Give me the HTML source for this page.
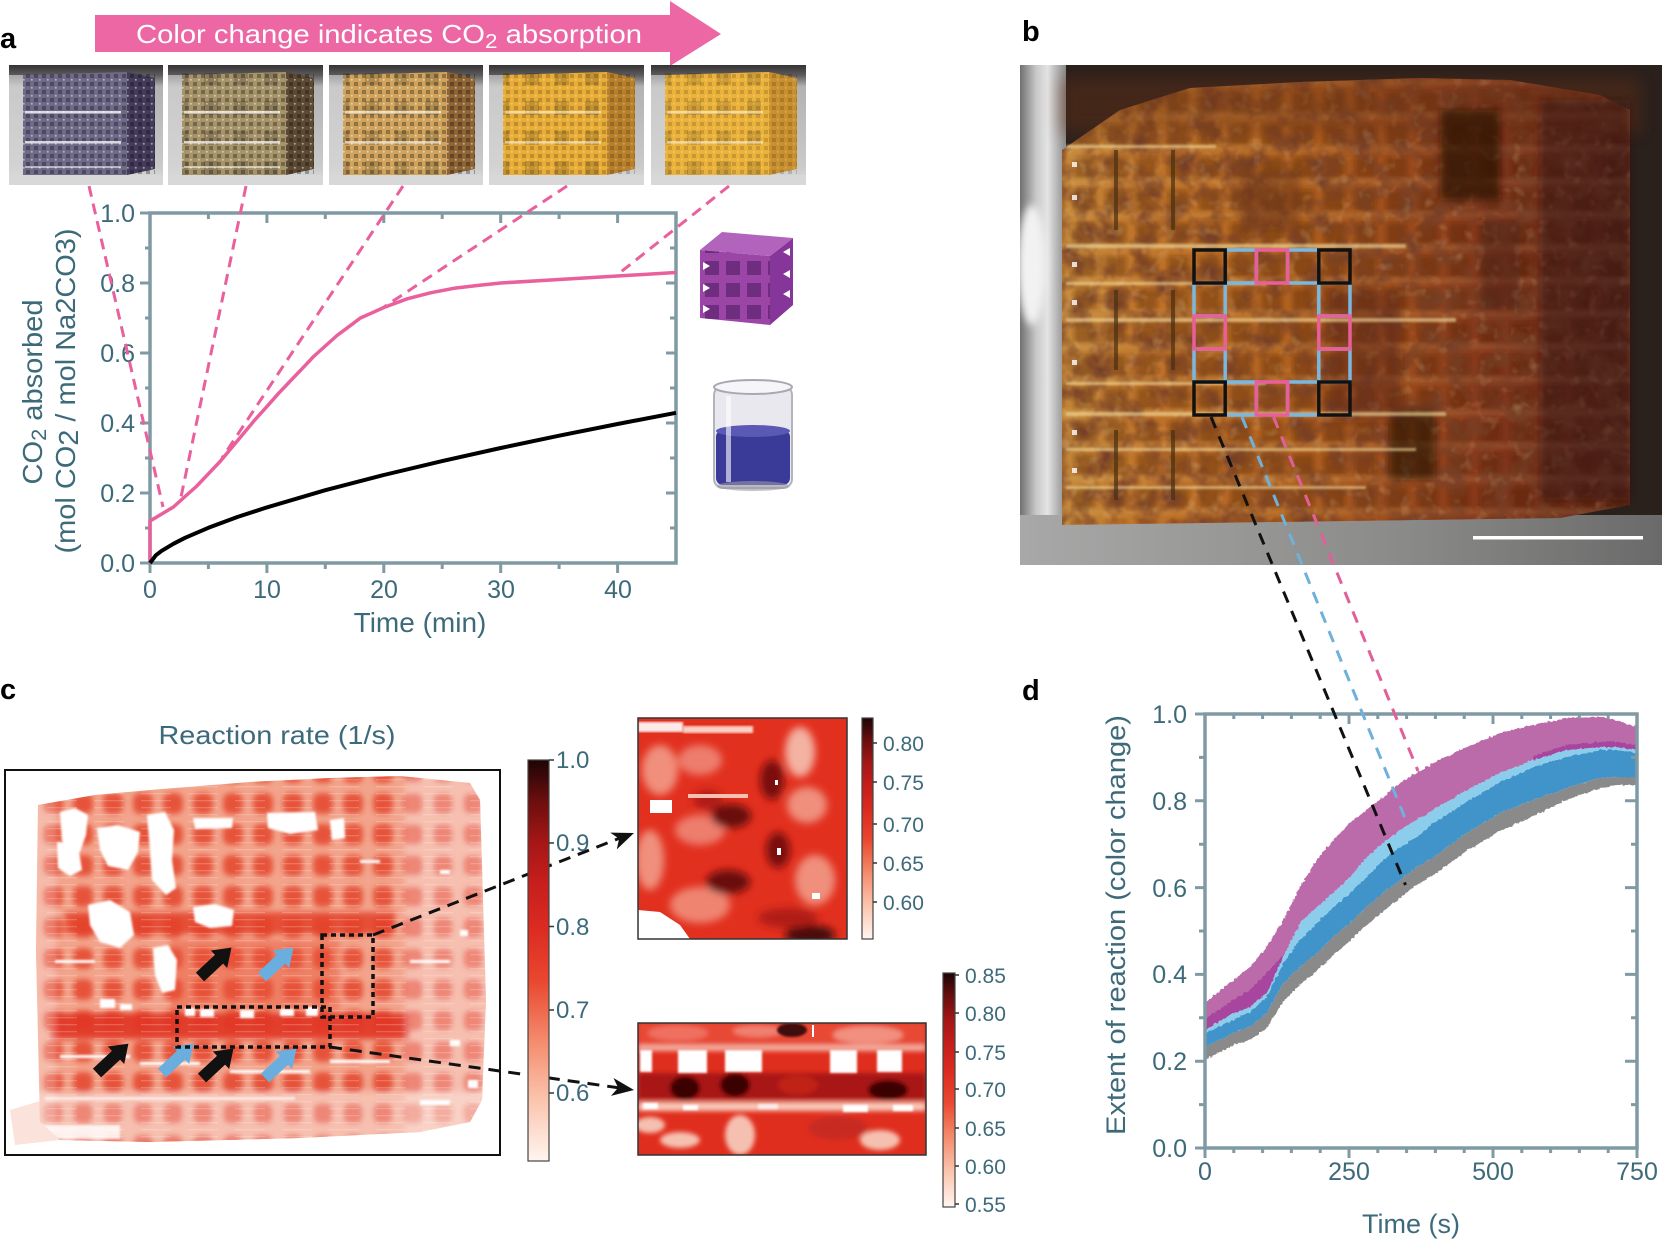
<!DOCTYPE html>
<html><head><meta charset="utf-8"><style>
html,body{margin:0;padding:0;background:#fff;}
svg{display:block;}
text{font-family:"Liberation Sans",Arial,sans-serif;}
</style></head><body>
<svg width="1662" height="1242" viewBox="0 0 1662 1242" xmlns="http://www.w3.org/2000/svg">
<defs>
<filter id="b1" x="-10%" y="-10%" width="120%" height="120%"><feGaussianBlur stdDeviation="1"/></filter>
<filter id="b2" x="-10%" y="-10%" width="120%" height="120%"><feGaussianBlur stdDeviation="2.5"/></filter>
<filter id="b3" x="-10%" y="-10%" width="120%" height="120%"><feGaussianBlur stdDeviation="3"/></filter>
<filter id="b4" x="-30%" y="-30%" width="160%" height="160%"><feGaussianBlur stdDeviation="4"/></filter>
<filter id="b8" x="-40%" y="-40%" width="180%" height="180%"><feGaussianBlur stdDeviation="8"/></filter>
<filter id="jag"><feTurbulence type="fractalNoise" baseFrequency="0.35" numOctaves="1" seed="3"/><feDisplacementMap in="SourceGraphic" scale="4" xChannelSelector="R" yChannelSelector="G"/></filter>
<filter id="mot" filterUnits="userSpaceOnUse" x="1020" y="65" width="642" height="500"><feTurbulence type="fractalNoise" baseFrequency="0.045" numOctaves="3" seed="7"/><feColorMatrix type="matrix" values="0 0 0 0 0.18  0 0 0 0 0.05  0 0 0 0 0.02  2.2 0 0 0 -0.85"/></filter>
<filter id="mot2" filterUnits="userSpaceOnUse" x="1020" y="65" width="642" height="500"><feTurbulence type="fractalNoise" baseFrequency="0.08" numOctaves="2" seed="11"/><feColorMatrix type="matrix" values="0 0 0 0 1  0 0 0 0 0.85  0 0 0 0 0.45  0 2.4 0 0 -1.35"/></filter>
<linearGradient id="cmap" x1="0" y1="1" x2="0" y2="0">
<stop offset="0" stop-color="#fff5f0"/><stop offset="0.15" stop-color="#fbc5ae"/><stop offset="0.3" stop-color="#f48b6c"/><stop offset="0.45" stop-color="#e9472f"/><stop offset="0.58" stop-color="#dc2b21"/><stop offset="0.7" stop-color="#c41e1c"/><stop offset="0.8" stop-color="#a31616"/><stop offset="0.9" stop-color="#6a0e0e"/><stop offset="1" stop-color="#1c0505"/>
</linearGradient>
<linearGradient id="pbg" x1="0" y1="0" x2="0" y2="1">
<stop offset="0" stop-color="#343232"/><stop offset="0.08" stop-color="#5a5858"/><stop offset="0.18" stop-color="#b2b2b2"/><stop offset="0.85" stop-color="#cacaca"/><stop offset="1" stop-color="#e0e0e0"/>
</linearGradient>
<linearGradient id="bcube" gradientUnits="userSpaceOnUse" x1="1060" y1="0" x2="1630" y2="0">
<stop offset="0" stop-color="#c4883a"/><stop offset="0.15" stop-color="#bf7429"/><stop offset="0.4" stop-color="#b0621f"/><stop offset="0.6" stop-color="#9c4c1c"/><stop offset="0.75" stop-color="#84361a"/><stop offset="1" stop-color="#5a2416"/>
</linearGradient>
<linearGradient id="glass" x1="0" y1="0" x2="1" y2="0">
<stop offset="0" stop-color="#707070"/><stop offset="0.35" stop-color="#c8c8c8"/><stop offset="0.6" stop-color="#e4e4e4"/><stop offset="1" stop-color="#8a8a8a"/>
</linearGradient>
<linearGradient id="floor" x1="0" y1="0" x2="1" y2="0">
<stop offset="0" stop-color="#a8a8a8"/><stop offset="0.6" stop-color="#8a8a88"/><stop offset="1" stop-color="#6a6a6a"/>
</linearGradient>
<pattern id="lat" width="8" height="8" patternUnits="userSpaceOnUse"><rect x="1" y="1" width="4" height="4" fill="#000" opacity=".3"/><rect x="6" y="6" width="1.6" height="1.6" fill="#fff" opacity=".55"/></pattern>
<pattern id="fr" width="30" height="30" patternUnits="userSpaceOnUse"><rect x="6" y="6" width="14" height="14" fill="#000" opacity=".16"/></pattern>
<pattern id="blat" x="1194" y="250" width="31.2" height="33" patternUnits="userSpaceOnUse"><rect x="5" y="6" width="21" height="21" fill="#4a1a08" opacity=".35"/><rect x="0" y="30" width="31.2" height="2" fill="#f0d090" opacity=".35"/></pattern>
<pattern id="blob" x="38" y="788" width="30" height="31" patternUnits="userSpaceOnUse"><rect x="5" y="5" width="20" height="21" rx="7" fill="#e54a32"/></pattern>
<pattern id="streak" width="47" height="7" patternUnits="userSpaceOnUse"><rect x="0" y="2" width="30" height="1.3" fill="#fff"/></pattern>
<pattern id="plat" width="21" height="22" patternUnits="userSpaceOnUse" x="702" y="258"><rect x="3" y="3" width="14" height="14" fill="#4a1860" opacity=".55"/></pattern>
<clipPath id="obj"><polygon points="38,805 95,795 150,790 250,782 330,778 400,776 470,783 480,800 486,1000 482,1100 470,1122 420,1132 300,1138 150,1142 60,1140 40,1122 36,950"/></clipPath>
<clipPath id="cpb"><rect x="1020" y="65" width="642" height="500"/></clipPath>
<clipPath id="cbc"><polygon points="1062,150 1120,110 1190,88 1300,82 1420,78 1510,80 1600,95 1630,110 1630,505 1560,518 1062,525"/></clipPath>
<clipPath id="cfront"><polygon points="700,250 770,256 770,325 700,318"/></clipPath>
</defs>

<!-- ============ PANEL A ============ -->
<text x="0" y="48" font-size="29" font-weight="bold" fill="#000">a</text>
<polygon points="95,15 670,15 670,1 721,34 670,66 670,52 95,52" fill="#ec67a4"/>
<text x="136" y="43" font-size="26" fill="#fff" textLength="506" lengthAdjust="spacingAndGlyphs">Color change indicates CO<tspan font-size="20" dy="5">2</tspan><tspan dy="-5"> absorption</tspan></text>

<!-- photos -->
<svg x="9" y="65" width="154" height="120">
<rect width="154" height="120" fill="url(#pbg)"/><rect x="0" y="10" width="14" height="100" fill="#d8d8d8" opacity=".6"/>
<polygon points="14,10 118,7 118,110 14,112" fill="#6e6a88"/><polygon points="118,7 146,13 146,104 118,110" fill="#443c5a"/>
<rect x="14" y="8" width="132" height="104" fill="url(#lat)"/>
<rect x="16" y="46" width="96" height="2.5" fill="#fff" opacity=".75"/><rect x="16" y="76" width="96" height="2.5" fill="#fff" opacity=".75"/><rect x="16" y="101" width="96" height="2" fill="#fff" opacity=".5"/>
<rect x="0" y="110" width="154" height="10" fill="#d8d8d8"/>
</svg>
<svg x="168" y="65" width="155" height="120">
<rect width="155" height="120" fill="url(#pbg)"/><rect x="0" y="10" width="14" height="100" fill="#d8d8d8" opacity=".6"/>
<polygon points="14,10 118,7 118,110 14,112" fill="#a8946a"/><polygon points="118,7 146,13 146,104 118,110" fill="#5c4a34"/>
<rect x="14" y="8" width="104" height="104" fill="url(#fr)"/>
<rect x="14" y="8" width="132" height="104" fill="url(#lat)"/>
<rect x="16" y="46" width="96" height="2.5" fill="#fff" opacity=".7"/><rect x="16" y="76" width="96" height="2.5" fill="#fff" opacity=".7"/><rect x="16" y="101" width="96" height="2" fill="#fff" opacity=".5"/>
<rect x="0" y="110" width="155" height="10" fill="#d8d8d8"/>
</svg>
<svg x="329" y="65" width="154" height="120">
<rect width="154" height="120" fill="url(#pbg)"/><rect x="0" y="10" width="14" height="100" fill="#d8d8d8" opacity=".6"/>
<polygon points="14,10 118,7 118,110 14,112" fill="#d0a45c"/><polygon points="118,7 146,13 146,104 118,110" fill="#8e6434"/>
<rect x="14" y="8" width="104" height="104" fill="url(#fr)"/>
<rect x="14" y="8" width="132" height="104" fill="url(#lat)"/>
<rect x="16" y="46" width="96" height="2.5" fill="#fff" opacity=".6"/><rect x="16" y="76" width="96" height="2.5" fill="#fff" opacity=".6"/>
<rect x="0" y="110" width="154" height="10" fill="#d8d8d8"/>
</svg>
<svg x="489" y="65" width="155" height="120">
<rect width="155" height="120" fill="url(#pbg)"/><rect x="0" y="10" width="14" height="100" fill="#d8d8d8" opacity=".6"/>
<polygon points="14,10 118,7 118,110 14,112" fill="#e8ae38"/><polygon points="118,7 146,13 146,104 118,110" fill="#b8802a"/>
<rect x="14" y="8" width="104" height="104" fill="url(#fr)"/>
<rect x="14" y="8" width="132" height="104" fill="url(#lat)" opacity=".6"/>
<rect x="16" y="46" width="96" height="2.5" fill="#fff" opacity=".5"/><rect x="16" y="76" width="96" height="2.5" fill="#fff" opacity=".5"/>
<rect x="0" y="110" width="155" height="10" fill="#d8d8d8"/>
</svg>
<svg x="651" y="65" width="155" height="120">
<rect width="155" height="120" fill="url(#pbg)"/><rect x="0" y="10" width="14" height="100" fill="#d8d8d8" opacity=".6"/>
<polygon points="14,10 118,7 118,110 14,112" fill="#ebb33c"/><polygon points="118,7 146,13 146,104 118,110" fill="#c99030"/>
<rect x="14" y="8" width="104" height="104" fill="url(#fr)" opacity=".8"/>
<rect x="14" y="8" width="132" height="104" fill="url(#lat)" opacity=".5"/>
<rect x="16" y="46" width="96" height="2.5" fill="#fff" opacity=".5"/><rect x="16" y="76" width="96" height="2.5" fill="#fff" opacity=".5"/>
<rect x="0" y="110" width="155" height="10" fill="#d8d8d8"/>
</svg>

<!-- chart a -->
<rect x="150" y="213" width="526" height="350" fill="none" stroke="#7f9aa3" stroke-width="3.5"/>
<path d="M140,563H150M140,493H150M140,423H150M140,353H150M140,283H150M140,213H150M145,528H150M145,458H150M145,388H150M145,318H150M145,248H150
M150,563V573M266.9,563V573M383.8,563V573M500.7,563V573M617.6,563V573M208.4,563V569M325.3,563V569M442.2,563V569M559.1,563V569
M266.9,213V223M383.8,213V223M500.7,213V223M617.6,213V223M208.4,213V219M325.3,213V219M442.2,213V219M559.1,213V219
M666,493H676M666,423H676M666,353H676M666,283H676M670,528H676M670,458H676M670,388H676M670,318H676M670,248H676" stroke="#7f9aa3" stroke-width="3" fill="none"/>
<g font-size="25" fill="#3d6a7a" text-anchor="end">
<text x="135" y="572">0.0</text><text x="135" y="502">0.2</text><text x="135" y="432">0.4</text><text x="135" y="362">0.6</text><text x="135" y="292">0.8</text><text x="135" y="222">1.0</text>
</g>
<g font-size="25" fill="#3d6a7a" text-anchor="middle">
<text x="150" y="598">0</text><text x="267" y="598">10</text><text x="384" y="598">20</text><text x="501" y="598">30</text><text x="618" y="598">40</text>
</g>
<text x="420" y="632" font-size="28" fill="#3d6a7a" text-anchor="middle">Time (min)</text>
<text transform="translate(42,392) rotate(-90)" text-anchor="middle" font-size="28" fill="#3d6a7a" textLength="185" lengthAdjust="spacingAndGlyphs">CO<tspan font-size="21" dy="4">2</tspan><tspan dy="-4"> absorbed</tspan></text>
<text transform="translate(75,391) rotate(-90)" text-anchor="middle" font-size="28" fill="#3d6a7a" textLength="325" lengthAdjust="spacingAndGlyphs">(mol CO<tspan dy="3">2</tspan><tspan dy="-3"> / mol Na2CO3)</tspan></text>

<path d="M150,563 L150,521 L161.7,514 L173.4,507 L185.1,496.5 L196.8,486 L208.4,473.8 L220.1,461.5 L231.8,447.5 L243.5,433.5 L255.2,419.5 L266.9,406.6 L278.6,393.3 L290.3,381 L302,368.8 L313.6,356.5 L325.3,346 L337,335.5 L348.7,326.8 L360.4,318 L372.1,312.8 L383.8,307.5 L407.2,298.8 L430.5,292.8 L453.9,288.3 L477.3,285.5 L500.7,283 L559.1,279.5 L617.6,276 L676,272.5" fill="none" stroke="#e9609c" stroke-width="3.5" stroke-linejoin="round"/>
<path d="M150,563 L155.8,555.3 L161.7,550.8 L173.4,543.8 L185.1,537.8 L208.4,527.8 L237.7,516.9 L266.9,507.4 L325.3,490.2 L383.8,475 L442.2,461.1 L500.7,448 L559.1,435.7 L617.6,424 L676,412.8" fill="none" stroke="#000" stroke-width="4" stroke-linejoin="round"/>
<g stroke="#e9609c" stroke-width="3" stroke-dasharray="11 7" fill="none">
<path d="M89,186 L163,507"/><path d="M246,186 L181,497"/><path d="M403,186 L222,458"/><path d="M567,186 L384,307"/><path d="M729,186 L617,275"/>
</g>

<!-- icons -->
<polygon points="700,250 770,256 770,325 700,318" fill="#9b46a6"/>
<polygon points="770,256 793,238 793,305 770,325" fill="#86369a"/>
<polygon points="700,250 722,232 793,238 770,256" fill="#b264bc"/>
<rect x="700" y="250" width="70" height="76" fill="url(#plat)" clip-path="url(#cfront)"/>
<g fill="#fff"><polygon points="703,262 710,266 703,270"/><polygon points="703,284 710,288 703,292"/><polygon points="703,305 710,309 703,313"/><polygon points="790,248 783,252 790,256"/><polygon points="790,270 783,274 790,278"/><polygon points="790,290 783,294 790,298"/></g>
<rect x="714" y="386" width="78" height="102" rx="9" fill="#e8e8ee" stroke="#b4b4bc" stroke-width="2"/>
<rect x="716" y="430" width="74" height="55" rx="7" fill="#3a3a98"/>
<ellipse cx="753" cy="431" rx="37" ry="6" fill="#5a5ab4"/>
<ellipse cx="753" cy="387" rx="39" ry="7" fill="#f6f6fa" stroke="#a8a8b0" stroke-width="2"/>
<rect x="726" y="396" width="5" height="86" fill="#fff" opacity=".6"/>
<ellipse cx="753" cy="486" rx="36" ry="5" fill="#9a9aa6" opacity=".6"/>

<!-- ============ PANEL B ============ -->
<text x="1022" y="41" font-size="29" font-weight="bold" fill="#000">b</text>
<g clip-path="url(#cpb)">
<rect x="1020" y="65" width="642" height="500" fill="#2a201c"/>
<rect x="1020" y="65" width="46" height="500" fill="url(#glass)"/>
<ellipse cx="1032" cy="265" rx="14" ry="60" fill="#f2f2f2" filter="url(#b4)"/>
<rect x="1020" y="515" width="642" height="50" fill="url(#floor)"/>
<polygon points="1062,150 1120,110 1190,88 1300,82 1420,78 1510,80 1600,95 1630,110 1630,505 1560,518 1062,525" fill="url(#bcube)"/>
<g clip-path="url(#cbc)">
<rect x="1060" y="78" width="580" height="445" fill="url(#blat)" filter="url(#b2)"/>
<rect x="1020" y="65" width="642" height="500" filter="url(#mot)"/>
<rect x="1020" y="65" width="642" height="500" filter="url(#mot2)" opacity=".25"/>
</g>
<rect x="1060" y="78" width="580" height="55" fill="#6a3014" opacity=".4" filter="url(#b8)"/>
<g filter="url(#b4)">
<rect x="1440" y="110" width="60" height="90" fill="#2a1008" opacity=".7"/>
<rect x="1330" y="290" width="70" height="130" fill="#5a2410" opacity=".45"/>
<rect x="1390" y="410" width="45" height="70" fill="#2a1008" opacity=".6"/>
<rect x="1240" y="170" width="60" height="60" fill="#6a3014" opacity=".5"/>
<rect x="1540" y="100" width="90" height="400" fill="#3a1a10" opacity=".5"/>
<rect x="1480" y="220" width="40" height="90" fill="#4a2010" opacity=".5"/>
</g>
<g fill="#f5e0a0" opacity=".6" filter="url(#b1)">
<rect x="1066" y="145" width="150" height="3"/><rect x="1066" y="244" width="340" height="4"/><rect x="1066" y="282" width="200" height="3"/><rect x="1066" y="318" width="390" height="4"/><rect x="1066" y="382" width="200" height="3"/><rect x="1066" y="412" width="380" height="4"/><rect x="1066" y="448" width="350" height="3"/><rect x="1066" y="486" width="300" height="3"/>
</g>
<g stroke="#4a3010" stroke-width="4" opacity=".7"><path d="M1116,150V230M1173,150V230M1116,290V370M1173,290V370M1116,430V500M1173,430V500"/></g>
<g fill="#fff" opacity=".8"><rect x="1072" y="162" width="5" height="5"/><rect x="1072" y="195" width="5" height="5"/><rect x="1072" y="262" width="5" height="5"/><rect x="1072" y="300" width="5" height="5"/><rect x="1072" y="360" width="5" height="5"/><rect x="1072" y="430" width="5" height="5"/><rect x="1072" y="468" width="5" height="5"/></g>
<rect x="1473" y="536" width="170" height="3.5" fill="#fff"/>
</g>
<!-- squares -->
<g fill="none" stroke-width="3.5">
<g stroke="#7ab8e0"><rect x="1225.2" y="250" width="31.2" height="33"/><rect x="1287.6" y="250" width="31.2" height="33"/><rect x="1225.2" y="382" width="31.2" height="33"/><rect x="1287.6" y="382" width="31.2" height="33"/><rect x="1194" y="283" width="31.2" height="33"/><rect x="1194" y="349" width="31.2" height="33"/><rect x="1318.8" y="283" width="31.2" height="33"/><rect x="1318.8" y="349" width="31.2" height="33"/></g>
<g stroke="#e8609a"><rect x="1256.4" y="250" width="31.2" height="33"/><rect x="1256.4" y="382" width="31.2" height="33"/><rect x="1194" y="316" width="31.2" height="33"/><rect x="1318.8" y="316" width="31.2" height="33"/></g>
<g stroke="#111"><rect x="1194" y="250" width="31.2" height="33"/><rect x="1318.8" y="250" width="31.2" height="33"/><rect x="1194" y="382" width="31.2" height="33"/><rect x="1318.8" y="382" width="31.2" height="33"/></g>
</g>

<!-- ============ PANEL C ============ -->
<text x="0" y="699" font-size="29" font-weight="bold" fill="#000">c</text>
<text x="277" y="744" font-size="26" fill="#3d6a7a" text-anchor="middle" textLength="237" lengthAdjust="spacingAndGlyphs">Reaction rate (1/s)</text>
<polygon points="10,1110 60,1095 60,1140 15,1145" fill="#f8cfc2" opacity=".6"/>
<g clip-path="url(#obj)">
<rect x="30" y="770" width="460" height="385" fill="#f3a48c"/>
<g filter="url(#b3)">
<rect x="30" y="770" width="460" height="385" fill="url(#blob)" opacity=".9"/>
<rect x="50" y="1013" width="360" height="26" fill="#e23826" opacity=".95"/>
<rect x="65" y="912" width="330" height="22" fill="#e4422c" opacity=".85"/>
<rect x="170" y="940" width="170" height="70" fill="#e85238" opacity=".45"/>
<rect x="405" y="776" width="85" height="370" fill="#fff" opacity=".3"/>
<rect x="30" y="1092" width="460" height="50" fill="#fff" opacity=".3"/>
<rect x="30" y="800" width="26" height="340" fill="#fff" opacity=".25"/>
</g>
<rect x="30" y="770" width="460" height="385" fill="url(#streak)" opacity=".2"/>
<g fill="#fff" filter="url(#b1)">
<polygon points="60,812 75,808 88,815 86,835 80,852 68,855 62,840"/>
<polygon points="57,842 78,845 82,870 70,876 58,868"/>
<polygon points="97,828 118,825 140,832 138,852 128,870 108,866 100,850"/>
<polygon points="88,905 110,900 130,912 134,935 120,948 100,942 90,925"/>
<polygon points="147,815 165,812 174,830 172,860 176,888 166,895 152,880 150,850"/>
<polygon points="153,948 168,945 177,960 175,990 162,993 155,975"/>
<polygon points="193,907 215,904 234,910 232,926 210,928 195,922"/>
<polygon points="193,818 233,818 232,828 195,829"/>
<polygon points="267,813 315,812 318,830 290,834 268,828"/>
<polygon points="330,820 344,818 345,838 332,840"/>
<rect x="185" y="1008" width="10" height="8"/><rect x="200" y="1009" width="14" height="8"/><rect x="240" y="1010" width="14" height="8"/><rect x="280" y="1009" width="14" height="7"/><rect x="306" y="1007" width="12" height="9"/>
<rect x="100" y="999" width="15" height="9"/><rect x="120" y="1004" width="12" height="6"/>
<rect x="45" y="1097" width="250" height="3" opacity=".7"/><rect x="40" y="1125" width="80" height="14" opacity=".8"/>
<rect x="440" y="870" width="10" height="4"/><rect x="460" y="930" width="8" height="6"/><rect x="450" y="1040" width="10" height="6"/><rect x="468" y="1080" width="10" height="8"/><rect x="420" y="1100" width="30" height="5"/>
<rect x="55" y="960" width="40" height="3"/><rect x="60" y="1055" width="70" height="3"/><rect x="140" y="1062" width="60" height="3"/><rect x="230" y="1070" width="80" height="3"/><rect x="330" y="1060" width="60" height="3"/>
<rect x="360" y="860" width="20" height="3"/><rect x="410" y="960" width="40" height="3"/>
</g>
</g>
<rect x="5" y="770" width="495" height="385" fill="none" stroke="#111" stroke-width="2"/>
<!-- arrows -->
<g>
<path d="M0,-6 L26,-6 L26,-12 L43,0 L26,12 L26,6 L0,6 Z" fill="#111" transform="translate(200,977) rotate(-43)"/>
<path d="M0,-6 L26,-6 L26,-12 L43,0 L26,12 L26,6 L0,6 Z" fill="#6aaee0" transform="translate(262,977) rotate(-43)"/>
<path d="M0,-6 L26,-6 L26,-12 L43,0 L26,12 L26,6 L0,6 Z" fill="#111" transform="translate(97,1073) rotate(-43)"/>
<path d="M0,-6 L26,-6 L26,-12 L43,0 L26,12 L26,6 L0,6 Z" fill="#6aaee0" transform="translate(162,1073) rotate(-43)"/>
<path d="M0,-6 L26,-6 L26,-12 L43,0 L26,12 L26,6 L0,6 Z" fill="#111" transform="translate(202,1078) rotate(-43)"/>
<path d="M0,-6 L26,-6 L26,-12 L43,0 L26,12 L26,6 L0,6 Z" fill="#6aaee0" transform="translate(265,1078) rotate(-43)"/>
</g>
<g fill="none" stroke="#111" stroke-width="3.5" stroke-dasharray="5 4">
<rect x="322" y="935" width="51" height="82"/><rect x="177" y="1007" width="153" height="40"/>
</g>
<g fill="none" stroke="#111" stroke-width="3" stroke-dasharray="12 8">
<path d="M373,935 L620,838"/><path d="M330,1047 L620,1088"/>
</g>
<polygon points="0,0 -22,-9 -16,0 -22,9" fill="#111" transform="translate(634,833) rotate(-21.3)"/>
<polygon points="0,0 -22,-9 -16,0 -22,9" fill="#111" transform="translate(634,1090) rotate(8)"/>

<!-- main colorbar -->
<rect x="528" y="760" width="21" height="401" fill="url(#cmap)" stroke="#444" stroke-width="1.2"/>
<path d="M549,760H554M549,843H554M549,926.5H554M549,1010H554M549,1093H554" stroke="#333" stroke-width="1.5"/>
<g font-size="24" fill="#3d6a7a">
<text x="556" y="768">1.0</text><text x="556" y="851">0.9</text><text x="556" y="935">0.8</text><text x="556" y="1018">0.7</text><text x="556" y="1101">0.6</text>
</g>

<!-- inset 1 -->
<svg x="638" y="718" width="209" height="221">
<rect width="209" height="221" fill="#e2301f"/>
<g filter="url(#b4)">
<ellipse cx="22" cy="52" rx="18" ry="25" fill="#f2a08c" opacity=".85"/><ellipse cx="62" cy="42" rx="22" ry="15" fill="#f09080" opacity=".8"/><ellipse cx="162" cy="34" rx="15" ry="25" fill="#f6c0b0" opacity=".9"/><ellipse cx="169" cy="87" rx="20" ry="18" fill="#f2a894" opacity=".8"/><ellipse cx="62" cy="112" rx="25" ry="15" fill="#f09080" opacity=".8"/><ellipse cx="177" cy="162" rx="20" ry="25" fill="#f2a894" opacity=".8"/><ellipse cx="62" cy="187" rx="30" ry="18" fill="#f29a86" opacity=".8"/><ellipse cx="12" cy="142" rx="14" ry="30" fill="#f2a894" opacity=".8"/>
<ellipse cx="93" cy="98" rx="20" ry="12" fill="#6a0a0a"/><ellipse cx="90" cy="164" rx="22" ry="12" fill="#6a0a0a"/><ellipse cx="134" cy="62" rx="12" ry="20" fill="#7a0c0c"/><ellipse cx="140" cy="132" rx="12" ry="18" fill="#7a0c0c"/><ellipse cx="172" cy="217" rx="25" ry="10" fill="#4a0808"/><ellipse cx="70" cy="82" rx="15" ry="10" fill="#b01a14"/><ellipse cx="150" cy="200" rx="30" ry="10" fill="#b01a14"/>
</g>
<rect x="0" y="4" width="45" height="10" fill="#fff" opacity=".9" filter="url(#b1)"/><rect x="45" y="8" width="70" height="7" fill="#fbd0c2" filter="url(#b1)"/><rect x="50" y="76" width="60" height="4" fill="#f8c0b0"/>
<rect x="12" y="82" width="22" height="13" fill="#fff"/>
<polygon points="0,192 22,194 42,207 52,221 0,221" fill="#fff"/>
<rect x="137" y="62" width="3" height="5" fill="#fff"/><rect x="139" y="130" width="4" height="7" fill="#fff"/><rect x="174" y="175" width="8" height="6" fill="#fff"/>
</svg>
<rect x="638" y="718" width="209" height="221" fill="none" stroke="#333" stroke-width="1.5"/>
<rect x="862" y="718" width="11" height="221" fill="url(#cmap)" stroke="#444" stroke-width="1.2"/>
<path d="M873,743H877M873,782H877M873,824H877M873,863H877M873,902H877" stroke="#333" stroke-width="1.5"/>
<g font-size="21" fill="#3d6a7a">
<text x="883" y="751">0.80</text><text x="883" y="790">0.75</text><text x="883" y="832">0.70</text><text x="883" y="871">0.65</text><text x="883" y="910">0.60</text>
</g>

<!-- inset 2 -->
<svg x="638" y="1023" width="288" height="132">
<rect width="288" height="132" fill="#e02e1e"/>
<g filter="url(#b2)">
<rect x="0" y="0" width="288" height="22" fill="#e84a34"/>
<ellipse cx="40" cy="10" rx="30" ry="8" fill="#f07060"/><ellipse cx="230" cy="12" rx="35" ry="9" fill="#f29080"/><ellipse cx="120" cy="8" rx="25" ry="6" fill="#f08070"/>
<rect x="0" y="22" width="288" height="6" fill="#f4b0a0"/>
<rect x="0" y="50" width="288" height="27" fill="#a81818"/>
<ellipse cx="47" cy="65" rx="15" ry="12" fill="#3a0606"/><ellipse cx="97" cy="62" rx="15" ry="12" fill="#3a0606"/><ellipse cx="250" cy="67" rx="20" ry="10" fill="#3a0606"/><ellipse cx="160" cy="62" rx="20" ry="10" fill="#c02018"/>
<rect x="0" y="79" width="288" height="9" fill="#f8c8b8"/>
<ellipse cx="102" cy="112" rx="15" ry="20" fill="#f6c0b0"/><ellipse cx="42" cy="117" rx="20" ry="8" fill="#f6c0b0"/><ellipse cx="242" cy="117" rx="20" ry="10" fill="#f6c0b0"/><ellipse cx="12" cy="102" rx="15" ry="8" fill="#f6c0b0"/>
<ellipse cx="200" cy="105" rx="30" ry="12" fill="#c82a20"/>
</g>
<ellipse cx="154" cy="7" rx="15" ry="7" fill="#400808" filter="url(#b1)"/>
<g fill="#fff" filter="url(#b1)">
<rect x="2" y="27" width="12" height="22"/><rect x="40" y="27" width="29" height="23"/><rect x="87" y="27" width="37" height="22"/><rect x="192" y="27" width="27" height="23"/><rect x="239" y="27" width="25" height="22"/>
<rect x="5" y="80" width="15" height="6"/><rect x="45" y="82" width="15" height="5"/><rect x="205" y="82" width="25" height="7"/><rect x="255" y="82" width="20" height="6"/><rect x="120" y="81" width="20" height="5" opacity=".7"/>
</g>
<rect x="174" y="2" width="2" height="12" fill="#fff"/>
</svg>
<rect x="638" y="1023" width="288" height="132" fill="none" stroke="#333" stroke-width="1.5"/>
<rect x="943" y="973" width="12" height="234" fill="url(#cmap)" stroke="#444" stroke-width="1.2"/>
<path d="M955,975H959M955,1013H959M955,1052H959M955,1089H959M955,1128H959M955,1166H959M955,1204H959" stroke="#333" stroke-width="1.5"/>
<g font-size="21" fill="#3d6a7a">
<text x="965" y="983">0.85</text><text x="965" y="1021">0.80</text><text x="965" y="1060">0.75</text><text x="965" y="1097">0.70</text><text x="965" y="1136">0.65</text><text x="965" y="1174">0.60</text><text x="965" y="1212">0.55</text>
</g>

<!-- ============ PANEL D ============ -->
<text x="1022" y="700" font-size="29" font-weight="bold" fill="#000">d</text>
<g filter="url(#jag)">
<polygon fill="#8a8a8a" points="1205,1047 1233.3,1033 1250,1027 1266.7,1013 1283.3,983 1300,967 1316.7,953 1333.3,937 1350,923 1366.7,907 1383.3,893 1400,880 1416.7,867 1433.3,857 1466.7,833 1500,813 1533.3,800 1566.7,788 1600,778 1616.7,777 1636.7,777 1636.7,785 1616.7,785 1600,788 1566.7,800 1533.3,816 1500,831 1466.7,851 1433.3,875 1416.7,885 1400,898 1383.3,911 1366.7,925 1350,941 1333.3,955 1316.7,971 1300,985 1283.3,1001 1266.7,1028 1250,1040 1233.3,1045 1205,1060"/>
<polygon fill="#3f94c9" points="1205,1033 1233.3,1020 1250,1012 1266.7,997 1283.3,963 1300,940 1316.7,923 1333.3,907 1350,893 1366.7,877 1383.3,860 1400,847 1416.7,837 1433.3,823 1466.7,802 1500,782 1533.3,767 1566.7,757 1600,750 1616.7,750 1636.7,753 1636.7,777 1616.7,777 1600,778 1566.7,788 1533.3,800 1500,813 1466.7,833 1433.3,857 1416.7,867 1400,880 1383.3,893 1366.7,907 1350,923 1333.3,937 1316.7,953 1300,967 1283.3,983 1266.7,1013 1250,1027 1233.3,1033 1205,1047"/>
<polygon fill="#8dcdec" points="1205,1030 1233.3,1013 1250,1007 1266.7,993 1283.3,957 1300,923 1316.7,907 1333.3,893 1350,877 1366.7,857 1383.3,843 1400,830 1416.7,820 1433.3,810 1466.7,790 1500,773 1533.3,760 1566.7,750 1600,747 1616.7,747 1636.7,750 1636.7,753 1616.7,750 1600,750 1566.7,757 1533.3,767 1500,782 1466.7,802 1433.3,823 1416.7,837 1400,847 1383.3,860 1366.7,877 1350,893 1333.3,907 1316.7,923 1300,940 1283.3,963 1266.7,997 1250,1012 1233.3,1020 1205,1033"/>
<polygon fill="#bb6aaa" points="1205,1003 1233.3,980 1250,967 1266.7,947 1283.3,920 1300,887 1316.7,860 1333.3,840 1350,823 1366.7,810 1383.3,797 1400,783 1416.7,773 1433.3,763 1466.7,747 1500,733 1533.3,725 1566.7,718 1600,717 1616.7,720 1636.7,727 1636.7,750 1616.7,747 1600,747 1566.7,750 1533.3,760 1500,773 1466.7,790 1433.3,810 1416.7,820 1400,830 1383.3,843 1366.7,857 1350,877 1333.3,893 1316.7,907 1300,923 1283.3,957 1266.7,993 1250,1007 1233.3,1013 1205,1030"/>
<polygon fill="#a8459e" points="1205,1019 1233.3,1000 1250,990 1266.7,973 1283.3,955 1283.3,957 1266.7,993 1250,1007 1233.3,1013 1205,1030"/>
<polygon fill="#a8459e" points="1533.3,756 1566.7,745 1600,742 1616.7,742 1636.7,745 1636.7,750 1616.7,747 1600,747 1566.7,750 1533.3,760"/>
</g>
<rect x="1205" y="714" width="432" height="434" fill="none" stroke="#7f9aa3" stroke-width="3.5"/>
<path d="M1195,1148H1205M1195,1061.2H1205M1195,974.4H1205M1195,887.6H1205M1195,800.8H1205M1195,714H1205M1199,1104.6H1205M1199,1017.8H1205M1199,931H1205M1199,844.2H1205M1199,757.4H1205
M1205,1148V1158M1349,1148V1158M1493,1148V1158M1637,1148V1158M1233.8,1148V1153M1262.6,1148V1153M1291.4,1148V1153M1320.2,1148V1153M1377.8,1148V1153M1406.6,1148V1153M1435.4,1148V1153M1464.2,1148V1153M1521.8,1148V1153M1550.6,1148V1153M1579.4,1148V1153M1608.2,1148V1153
M1349,714V724M1493,714V724M1233.8,714V719M1262.6,714V719M1291.4,714V719M1320.2,714V719M1377.8,714V719M1406.6,714V719M1435.4,714V719M1464.2,714V719M1521.8,714V719M1550.6,714V719M1579.4,714V719M1608.2,714V719
M1625,1061.2H1637M1625,974.4H1637M1625,887.6H1637M1625,800.8H1637M1631,1104.6H1637M1631,1017.8H1637M1631,931H1637M1631,844.2H1637M1631,757.4H1637" stroke="#7f9aa3" stroke-width="3" fill="none"/>
<g font-size="25" fill="#3d6a7a" text-anchor="end">
<text x="1187" y="1157">0.0</text><text x="1187" y="1070">0.2</text><text x="1187" y="983">0.4</text><text x="1187" y="897">0.6</text><text x="1187" y="810">0.8</text><text x="1187" y="723">1.0</text>
</g>
<g font-size="25" fill="#3d6a7a" text-anchor="middle">
<text x="1205" y="1180">0</text><text x="1349" y="1180">250</text><text x="1493" y="1180">500</text><text x="1637" y="1180">750</text>
</g>
<text x="1411" y="1233" font-size="27" fill="#3d6a7a" text-anchor="middle">Time (s)</text>
<text transform="translate(1125,925) rotate(-90)" text-anchor="middle" font-size="27" fill="#3d6a7a" textLength="420" lengthAdjust="spacingAndGlyphs">Extent of reaction (color change)</text>

<!-- connector dashed lines b -> d -->
<g fill="none" stroke-width="3" stroke-dasharray="12 9">
<path d="M1211,417 L1405.5,885" stroke="#111"/>
<path d="M1242,417 L1407,823" stroke="#6fb0dc"/>
<path d="M1273.5,417 L1418,771" stroke="#e0609a"/>
</g>
</svg>
</body></html>
